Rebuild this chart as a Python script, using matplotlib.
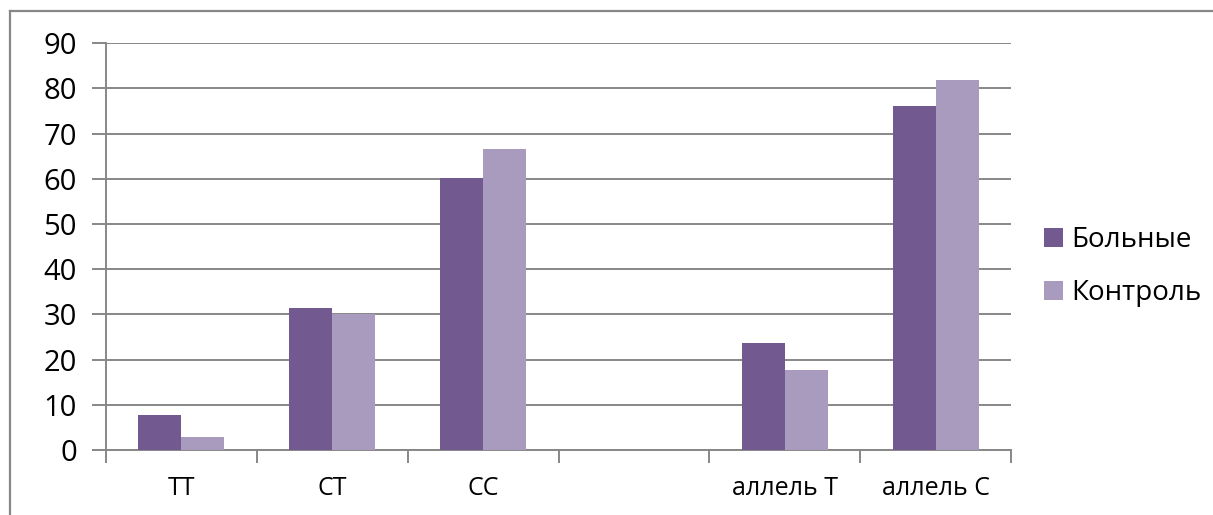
import numpy as np
import matplotlib.pyplot as plt
from matplotlib.lines import Line2D
from matplotlib.ticker import FixedLocator, NullFormatter

plt.rcParams['font.family'] = ['Open Sans', 'DejaVu Sans']

categories = ["TT", "CT", "CC", "", "аллель T", "аллель C"]
bolnye = [7.8, 31.5, 60.2, np.nan, 23.6, 76.1]
kontrol = [2.8, 30.0, 66.7, np.nan, 17.8, 81.9]
series_names = ["Больные", "Контроль"]

dark = "#72598F"
light = "#A99BBD"
grid_col = "#878787"

W, H = 1213, 515
fig = plt.figure(figsize=(W / 100, H / 100), dpi=100)
ax = fig.add_axes([106 / W, 1 - 450 / H, (1011 - 106) / W, (450 - 43.3) / H])

x = np.arange(len(categories))
bw = 0.285
ax.bar(x - bw / 2, bolnye, bw, color=dark, label=series_names[0], zorder=3)
ax.bar(x + bw / 2, kontrol, bw, color=light, label=series_names[1], zorder=3)

ax.set_xlim(-0.5, len(categories) - 0.5)
ax.set_ylim(0, 90)
ax.set_yticks(np.arange(0, 91, 10))
ax.yaxis.grid(True, color=grid_col, linewidth=1.4, zorder=0)
ax.set_axisbelow(True)

# category labels in the middle, tick marks on slot borders
ax.set_xticks(x)
ax.set_xticklabels(categories)
ax.xaxis.set_minor_locator(FixedLocator(np.arange(-0.5, len(categories), 1.0)))
ax.xaxis.set_minor_formatter(NullFormatter())
ax.tick_params(axis='x', which='major', length=0, pad=19, labelsize=18)
ax.tick_params(axis='x', which='minor', length=9, width=1.4, color=grid_col)
ax.tick_params(axis='y', length=10, width=1.4, color=grid_col, pad=11, labelsize=21)

for s in ['top', 'right']:
    ax.spines[s].set_visible(False)
for s in ['left', 'bottom']:
    ax.spines[s].set_color(grid_col)
    ax.spines[s].set_linewidth(1.4)

fig.legend(loc='center left', bbox_to_anchor=(1044 / W, 1 - 266.5 / H),
           frameon=False, fontsize=20, handlelength=0.68, handleheight=0.68,
           handletextpad=0.3, labelspacing=0.9, borderpad=0, borderaxespad=0)

# outer chart frame
fx = 10 / W
fy = 1 - 11 / H
fig.add_artist(Line2D([fx, fx], [0, fy], transform=fig.transFigure, color=grid_col, linewidth=1.6))
fig.add_artist(Line2D([fx, 1], [fy, fy], transform=fig.transFigure, color=grid_col, linewidth=1.6))

fig.savefig("out.png", dpi=100)
